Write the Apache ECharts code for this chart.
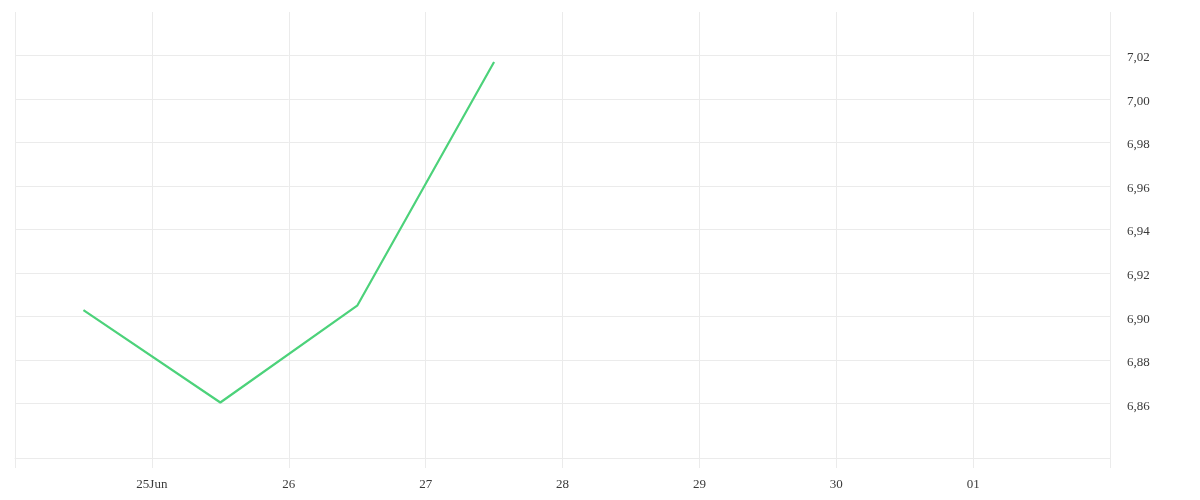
<!DOCTYPE html>
<html>
<head>
<meta charset="utf-8">
<script src="https://cdn.jsdelivr.net/npm/echarts@6/dist/echarts.min.js"></script>
<style>
  html, body { margin: 0; padding: 0; background: #fff; }
  #chart { width: 1200px; height: 500px; }
</style>
</head>
<body>
<div id="chart"></div>
<script>
// data
var dates = ['2024-06-24 12:00', '2024-06-25 12:00', '2024-06-26 12:00', '2024-06-27 12:00']
var values = [6.903, 6.8605, 6.905, 7.017]

var xStart = '2024-06-24'
var xEnd = '2024-07-02'
var xLabelDates = ['2024-06-25', '2024-06-26', '2024-06-27', '2024-06-28',
  '2024-06-29', '2024-06-30', '2024-07-01']
var xLabels = ['25Jun', '26', '27', '28', '29', '30', '01']
var yTicks = [6.86, 6.88, 6.90, 6.92, 6.94, 6.96, 6.98, 7.00, 7.02]

var DAY = 24 * 3600 * 1000
var myChart = echarts.init(document.getElementById('chart'))

function toTime (s) {
  return echarts.time.parse(s).getTime()
}

var labelMap = {}
for (var i = 0; i < xLabelDates.length; i++) {
  labelMap[toTime(xLabelDates[i])] = xLabels[i]
}

var font = 'Liberation Serif'

var option = {
  animation: false,
  grid: {left: 15, right: 90, top: 12, bottom: 42},
  xAxis: {
    type: 'time',
    min: toTime(xStart),
    max: toTime(xEnd),
    minInterval: DAY,
    maxInterval: DAY,
    axisLine: {show: true, lineStyle: {color: '#ebebeb', width: 1}},
    axisTick: {show: true, length: 10, lineStyle: {color: '#ebebeb'}},
    axisLabel: {
      showMinLabel: false,
      showMaxLabel: false,
      hideOverlap: false,
      margin: 20,
      color: '#3a3a3a',
      fontFamily: font,
      fontSize: 13,
      fontWeight: 'normal',
      formatter: function (v) { return labelMap[v] || '' }
    },
    splitLine: {show: true, lineStyle: {color: '#ebebeb', width: 1}}
  },
  yAxis: {
    type: 'value',
    position: 'right',
    min: 6.835,
    max: 7.04,
    axisLine: {show: false},
    axisTick: {show: false, customValues: yTicks},
    axisLabel: {
      customValues: yTicks,
      margin: 17,
      color: '#3a3a3a',
      fontFamily: font,
      fontSize: 13,
      formatter: function (v) { return '{v|' + v.toFixed(2).replace('.', ',') + '}' },
      rich: {
        v: {padding: [5, 0, 0, 0], color: '#3a3a3a', fontFamily: font, fontSize: 13}
      }
    },
    splitLine: {show: true, lineStyle: {color: '#ebebeb', width: 1}}
  },
  series: [{
    type: 'line',
    data: dates.map(function (d, i) { return [toTime(d), values[i]] }),
    showSymbol: false,
    symbol: 'none',
    lineStyle: {color: '#4cd27a', width: 2.2}
  }]
}

myChart.setOption(option)
</script>
</body>
</html>
